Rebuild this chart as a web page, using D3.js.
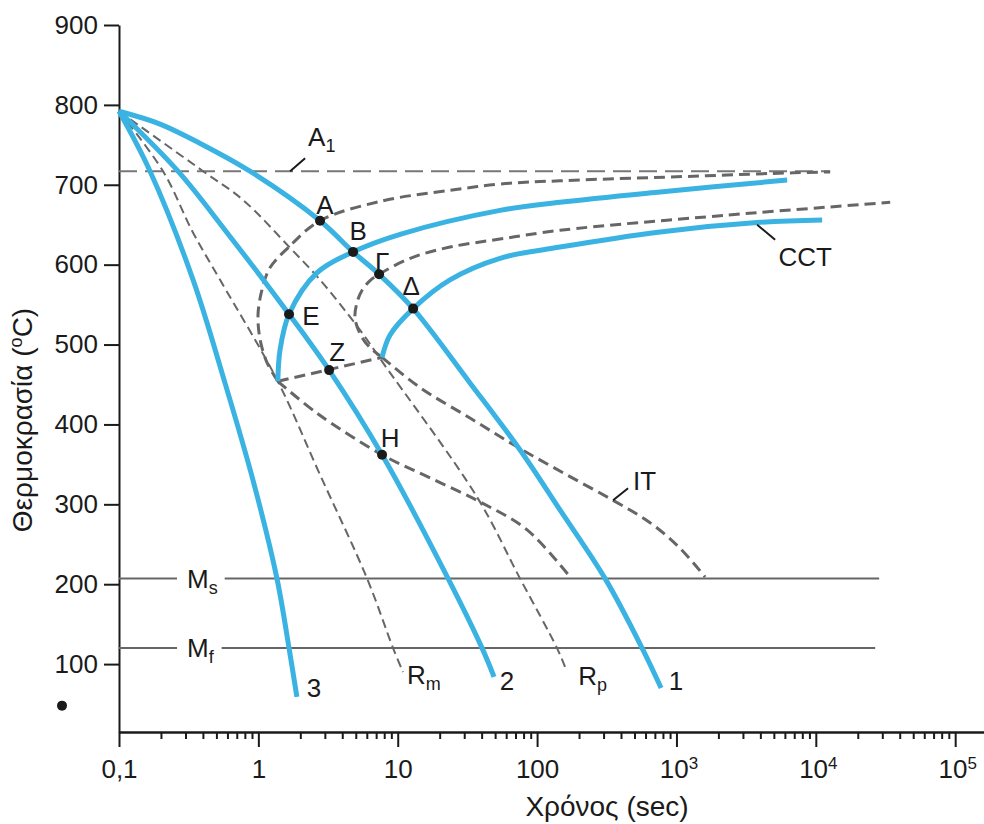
<!DOCTYPE html>
<html lang="el">
<head>
<meta charset="UTF-8">
<title>Διάγραμμα CCT / IT</title>
<script src="https://d3js.org/d3.v7.min.js"></script>
<style>
  body { margin: 0; background: #fff; }
  svg { display: block; font-family: "Liberation Sans", Arial, Helvetica, sans-serif; }
</style>
</head>
<body>
<script>
// values: time in sec, temperature in degC

var xTicks = [0.1, 1, 10, 100, 1e3, 1e4, 1e5];
var xTickLabels = ["0,1", "1", "10", "100", "10^3", "10^4", "10^5"];
var yTicks = [100, 200, 300, 400, 500, 600, 700, 800, 900];

// horizontal levels and where they stop
var A1 = 717, Ms = 207, Mf = 120;
var a1End = 12670, msEnd = 28480, mfEnd = 26660;

// cooling curves 1, 2, 3 (blue)
var c1Time = [0.1, 0.197, 0.38, 0.87, 2.77, 4.78, 7.35, 12.9, 33, 75.5, 146, 308, 567, 776];
var c1Temp = [792, 776, 752, 717, 655, 616, 588, 545, 452, 368, 293, 207, 120, 70];
var c2Time = [0.1, 0.265, 0.596, 1.66, 3.22, 7.72, 23.0, 40.3, 49.1];
var c2Temp = [792, 717, 640, 538, 468, 362, 207, 120, 84];
var c3Time = [0.1, 0.167, 0.34, 0.567, 0.916, 1.36, 1.66, 1.89];
var c3Temp = [792, 717, 581, 456, 330, 207, 120, 59];
var curveNames = ["1", "2", "3"];

// critical cooling rates Rm, Rp (thin dashed)
var rmTime = [0.1, 0.207, 0.34, 0.531, 1.36, 2.77, 6.03, 9.26, 10.9];
var rmTemp = [792, 717, 640, 581, 456, 337, 207, 120, 90];
var rpTime = [0.1, 0.401, 0.776, 1.69, 2.77, 5.37, 7.85, 37.1, 75.5, 139, 159];
var rpTemp = [792, 717, 681, 621, 581, 518, 477, 309, 207, 120, 96];

// IT curves (dashed): pearlite start / finish, bainite start / finish
var psTime = [1.38, 1.15, 1.03, 0.994, 1.06, 1.21, 1.63, 2.77, 7.85, 23.7, 54.2, 146, 1478, 6875, 12670];
var psTemp = [454, 478, 506, 537, 568, 596, 621, 655, 680, 693, 701, 705, 711, 715, 716];
var pfTime = [7.72, 6.33, 5.46, 4.94, 5.11, 5.55, 6.33, 7.35, 12.3, 23.7, 54.2, 146, 2310, 34170];
var pfTemp = [484, 496, 511, 533, 553, 568, 580, 588, 608, 622, 632, 643, 662, 678];
var bsTime = [1.38, 2.64, 7.72, 17.1, 39.0, 84.8, 172.5];
var bsTemp = [454, 414, 362, 333, 303, 268, 209];
var bfTime = [7.72, 14.5, 33.0, 71.8, 159, 351, 647, 1062, 1606];
var bfTemp = [484, 446, 408, 372, 338, 305, 277, 245, 209];
var zTime = [1.38, 7.72];
var zTemp = [454, 484];

// CCT curves (blue): start / finish
var csTime = [1.38, 1.43, 1.66, 2.64, 4.78, 10.4, 54.2, 146, 763, 6228];
var csTemp = [454, 493, 538, 590, 616, 638, 668, 678, 691, 706];
var cfTime = [7.72, 8.81, 12.9, 23.7, 54.2, 146, 763, 3986, 11100];
var cfTemp = [484, 512, 545, 581, 608, 622, 641, 653, 656];

// marked points
var ptNames = ["A", "B", "Γ", "Δ", "E", "Z", "H"];
var ptTime = [2.77, 4.78, 7.35, 12.9, 1.66, 3.22, 7.72];
var ptTemp = [655, 616, 588, 545, 538, 468, 362];

// stray bullet left of the axis
var dotTime = 0.039, dotTemp = 48;

// ---------------------------------------------------------------

var W = 984, H = 824;
var blue = "#3ab3e2", grey = "#666", ink = "#1a1a1a";

var svg = d3.select("body").append("svg")
  .attr("width", W)
  .attr("height", H);

var x = d3.scaleLog().domain([0.1, 1.61e5]).range([119, 984]);
var y = d3.scaleLinear().domain([15, 900]).range([732, 25]);

function zip(ts, Ts) { return ts.map(function(t, i) { return [t, Ts[i]]; }); }

var smooth = d3.line()
  .x(function(d) { return x(d[0]); })
  .y(function(d) { return y(d[1]); })
  .curve(d3.curveCatmullRom.alpha(0.5));
var straight = d3.line()
  .x(function(d) { return x(d[0]); })
  .y(function(d) { return y(d[1]); });

function label(px, py, main, sub, anchor, size) {
  var t = svg.append("text")
    .attr("x", px).attr("y", py)
    .attr("font-size", size || 26)
    .attr("fill", ink)
    .attr("text-anchor", anchor || "start");
  t.append("tspan").text(main);
  if (sub) t.append("tspan").attr("dy", 6).attr("font-size", 18).text(sub);
  return t;
}

// --- axes ---
var minors = [];
xTicks.slice(0, -1).forEach(function(m) {
  for (var k = 2; k < 10; k++) minors.push(m * k);
});

var xMinor = svg.append("g")
  .attr("transform", "translate(0," + y(15) + ")")
  .call(d3.axisBottom(x).tickValues(minors).tickSize(7).tickFormat("").tickSizeOuter(0));

var xMajor = svg.append("g")
  .attr("transform", "translate(0," + y(15) + ")")
  .call(d3.axisBottom(x).tickValues(xTicks).tickSize(15).tickPadding(13).tickSizeOuter(0)
    .tickFormat(function() { return ""; }));

xMajor.selectAll(".tick text").each(function(d, i) {
  var parts = xTickLabels[i].split("^");
  var t = d3.select(this);
  t.append("tspan").text(parts[0]);
  if (parts[1]) {
    t.append("tspan").attr("dy", -9).attr("font-size", 17).text(parts[1]);
    t.attr("dx", 2);
  }
});

var yAxis = svg.append("g")
  .attr("transform", "translate(" + x(0.1) + ",0)")
  .call(d3.axisLeft(y).tickValues(yTicks).tickSize(15).tickPadding(6).tickSizeOuter(0));

[xMinor, xMajor, yAxis].forEach(function(g) {
  g.attr("color", ink).attr("font-size", 26).attr("font-family", null);
  g.selectAll("path, line").attr("stroke-width", 2);
});

svg.append("text")
  .attr("transform", "translate(32,420) rotate(-90)")
  .attr("text-anchor", "middle")
  .attr("font-size", 28)
  .attr("fill", ink)
  .call(function(t) {
    t.append("tspan").text("Θερμοκρασία (");
    t.append("tspan").attr("dy", -10).attr("font-size", 18).text("o");
    t.append("tspan").attr("dy", 10).text("C)");
  });

svg.append("text")
  .attr("x", 607).attr("y", 816)
  .attr("text-anchor", "middle")
  .attr("font-size", 28)
  .attr("fill", ink)
  .text("Χρόνος (sec)");

// --- Ms, Mf levels with their labels (white gap behind the label) ---
[[Ms, msEnd, "s"], [Mf, mfEnd, "f"]].forEach(function(m) {
  svg.append("path")
    .attr("d", straight([[0.1, m[0]], [m[1], m[0]]]))
    .attr("stroke", grey).attr("stroke-width", 2).attr("fill", "none");
  var t = label(x(0.1) + 68, y(m[0]) + 9, "M", m[2]);
  var bb = t.node().getBBox();
  svg.append("rect")
    .attr("x", bb.x - 10).attr("y", bb.y).attr("width", bb.width + 17).attr("height", bb.height)
    .attr("fill", "#fff");
  t.raise();
});

// --- A1 ---
svg.append("path")
  .attr("d", straight([[0.1, A1], [a1End, A1]]))
  .attr("stroke", "#777").attr("stroke-width", 2).attr("stroke-dasharray", "18,8").attr("fill", "none");

// --- thin dashed critical rates ---
[[rmTime, rmTemp, "R", "m", 4, 12], [rpTime, rpTemp, "R", "p", 13, 18]].forEach(function(r) {
  var pts = zip(r[0], r[1]);
  svg.append("path")
    .attr("d", smooth(pts))
    .attr("stroke", grey).attr("stroke-width", 2).attr("stroke-dasharray", "9,5").attr("fill", "none");
  var last = pts[pts.length - 1];
  label(x(last[0]) + r[4], y(last[1]) + r[5], r[2], r[3]);
});

// --- IT curves ---
[[psTime, psTemp], [pfTime, pfTemp], [bsTime, bsTemp], [bfTime, bfTemp]].forEach(function(c) {
  svg.append("path")
    .attr("d", smooth(zip(c[0], c[1])))
    .attr("stroke", grey).attr("stroke-width", 3).attr("stroke-dasharray", "11,6").attr("fill", "none");
});
svg.append("path")
  .attr("d", straight(zip(zTime, zTemp)))
  .attr("stroke", grey).attr("stroke-width", 3).attr("stroke-dasharray", "11,6").attr("fill", "none");

// --- CCT curves ---
[[csTime, csTemp], [cfTime, cfTemp]].forEach(function(c) {
  svg.append("path")
    .attr("d", smooth(zip(c[0], c[1])))
    .attr("stroke", blue).attr("stroke-width", 5).attr("fill", "none");
});

// --- cooling curves ---
var numOffsets = [[15, 2], [13, 13], [17, 0]];
[[c1Time, c1Temp], [c2Time, c2Temp], [c3Time, c3Temp]].forEach(function(c, i) {
  var pts = zip(c[0], c[1]);
  svg.append("path")
    .attr("d", smooth(pts))
    .attr("stroke", blue).attr("stroke-width", 5).attr("fill", "none");
  var last = pts[pts.length - 1];
  label(x(last[0]) + numOffsets[i][0], y(last[1]) + numOffsets[i][1], curveNames[i], null, "middle");
});

// --- leader lines and names for A1, CCT, IT ---
function leader(t, T, dx, dy) {
  svg.append("line")
    .attr("x1", x(t)).attr("y1", y(T))
    .attr("x2", x(t) + dx).attr("y2", y(T) + dy)
    .attr("stroke", ink).attr("stroke-width", 2);
}
leader(1.69, A1, 15, -13);
label(x(1.69) + 18, y(A1) - 25, "A", "1");
leader(3793, 650, 18, 15);
label(x(3793) + 48, y(650) + 41, "CCT", null, "middle");
leader(351, 305, 15, -12);
label(x(351) + 20, y(305) - 10, "IT");

// --- marked points ---
var ptOffsets = [[5, -7], [5, -12], [3, -3], [-2, -14], [22, 11], [8, -9], [8, -8]];
ptNames.forEach(function(n, i) {
  svg.append("circle")
    .attr("cx", x(ptTime[i])).attr("cy", y(ptTemp[i]))
    .attr("r", 5).attr("fill", ink);
  label(x(ptTime[i]) + ptOffsets[i][0], y(ptTemp[i]) + ptOffsets[i][1], n, null, "middle");
});

svg.append("circle")
  .attr("cx", x(dotTime)).attr("cy", y(dotTemp))
  .attr("r", 5).attr("fill", ink);
</script>
</body>
</html>
